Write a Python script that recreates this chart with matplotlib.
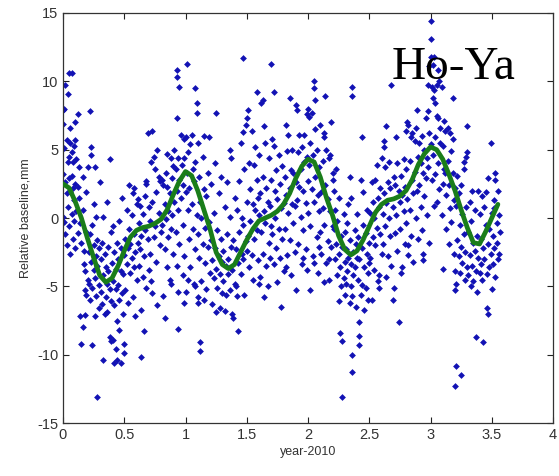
import matplotlib
matplotlib.use("Agg")
import matplotlib.pyplot as plt

# ---- data: (year-2010, relative baseline mm) ----
pts_2010 = [
    (0.00, 7.9), (0.00, 6.9), (0.01, 8.0), (0.00, 3.2), (0.00, 0.1), (0.01, -0.3), (0.02, 9.7), (0.01, 5.1),
    (0.02, 2.6), (0.02, -1.2), (0.03, 5.7), (0.03, 1.8), (0.03, -2.0), (0.04, 9.1), (0.04, 4.1), (0.04, 0.8),
    (0.05, 10.6), (0.05, 4.5), (0.05, 2.9), (0.05, -0.6), (0.06, 6.6), (0.06, 5.5), (0.06, 1.9), (0.06, -2.6),
    (0.07, 10.6), (0.07, 4.8), (0.07, 3.1), (0.07, 0.3), (0.08, 4.1), (0.08, 2.2), (0.08, -1.5), (0.09, 5.3),
    (0.09, 1.3), (0.09, -0.2), (0.10, 7.0), (0.10, 5.7), (0.10, 2.5), (0.10, -2.2),
    (0.12, 7.6), (0.11, 4.3), (0.13, 3.7), (0.12, 2.3), (0.13, 1.5), (0.11, 0.5), (0.14, -0.4), (0.12, -1.1),
    (0.15, -1.8), (0.16, 3.0), (0.16, 0.6), (0.17, -2.4), (0.17, -3.4), (0.18, -5.3), (0.18, -7.1), (0.19, -5.6),
    (0.15, -9.2), (0.16, -8.0), (0.19, 1.9), (0.20, 3.7), (0.19, -1.0), (0.14, -7.2), (0.18, -3.9), (0.20, -4.5),
    (0.21, -2.5), (0.21, -4.8), (0.22, 7.8), (0.22, -1.2), (0.22, -6.0), (0.23, 5.2), (0.23, 4.6), (0.23, -3.2),
    (0.24, -9.3), (0.24, -0.5), (0.24, -5.1), (0.25, 1.0), (0.25, -2.0), (0.25, -3.8), (0.26, 3.7), (0.26, -4.4),
    (0.26, -7.2), (0.27, 0.1), (0.27, -2.8), (0.27, -5.7), (0.28, -13.1), (0.28, -1.6), (0.28, -3.5), (0.29, -4.9),
    (0.29, -6.6), (0.30, 2.6), (0.29, -2.2),
    (0.31, -3.0), (0.31, -5.4), (0.32, -1.8), (0.32, -6.3), (0.33, 0.1), (0.33, -10.4), (0.33, -4.2), (0.34, -2.6),
    (0.34, -7.0), (0.35, -3.6), (0.35, -5.8), (0.36, 1.2), (0.36, -4.8), (0.36, -6.9), (0.37, -2.1), (0.37, -3.9),
    (0.38, 4.3), (0.38, -8.7), (0.38, -5.2), (0.39, -1.0), (0.39, -9.0), (0.39, -6.1), (0.40, -3.3),
    (0.41, -8.9), (0.41, -0.6), (0.41, -4.6), (0.42, -10.6), (0.42, -2.5), (0.42, -6.4), (0.43, -3.7), (0.43, -9.6),
    (0.43, -5.2), (0.44, -10.4), (0.44, -1.8), (0.44, -7.5), (0.45, -3.0), (0.45, -4.9), (0.46, -0.2), (0.46, -6.0),
    (0.46, -8.2), (0.47, -10.6), (0.47, -2.2), (0.47, -3.9), (0.48, -5.5), (0.48, 1.5), (0.49, -4.1), (0.49, -7.0),
    (0.50, -9.2), (0.50, -9.9), (0.50, -2.7),
    (0.51, -1.5), (0.51, -5.3), (0.52, 0.6), (0.52, -3.4), (0.53, -2.2), (0.53, -6.2), (0.54, 2.4), (0.54, -0.8),
    (0.55, -4.0), (0.55, -1.9), (0.56, -2.9), (0.56, 0.2), (0.57, 1.8), (0.57, -5.8), (0.58, 2.2), (0.58, -1.2),
    (0.58, -3.6), (0.59, -7.2), (0.59, -2.5), (0.60, 1.0), (0.60, -4.5),
    (0.61, -1.8), (0.61, 1.4), (0.62, -3.5), (0.62, -0.4), (0.63, -2.3), (0.63, 0.9), (0.64, -10.2), (0.64, -6.7),
    (0.64, -1.3), (0.65, -4.3), (0.65, 0.3), (0.66, -8.3), (0.66, -2.8), (0.67, -0.9), (0.67, 1.6), (0.68, 2.7),
    (0.68, 2.5), (0.68, -5.1), (0.69, 6.2), (0.69, -1.5), (0.70, 0.8), (0.70, -3.8),
    (0.71, -0.2), (0.71, -2.6), (0.72, 4.1), (0.72, -4.6), (0.73, 6.4), (0.73, 1.2), (0.73, -5.5), (0.74, 4.5),
    (0.74, -1.4), (0.75, 3.6), (0.75, -0.6), (0.76, -3.2), (0.76, 1.9), (0.77, 5.0), (0.77, -6.4), (0.78, 0.4),
    (0.78, 3.0), (0.79, 2.7), (0.79, -2.0), (0.80, -1.0),
    (0.81, -0.5), (0.81, 2.8), (0.82, 2.4), (0.82, -5.7), (0.83, -7.3), (0.83, 1.0), (0.83, -2.3), (0.84, 3.3),
    (0.84, -0.1), (0.85, 4.7), (0.85, 2.3), (0.85, -3.6), (0.86, 0.5), (0.86, -1.4), (0.87, 1.8), (0.87, -4.5),
    (0.88, 4.4), (0.88, -0.8), (0.89, 2.9), (0.89, 0.2), (0.90, -2.6), (0.90, 3.8), (0.88, -4.8),
    (0.91, 1.2), (0.91, 5.0), (0.92, -1.0), (0.92, 3.6), (0.93, 2.0), (0.93, -3.5), (0.94, -8.1), (0.94, 4.4),
    (0.94, 0.6), (0.95, 2.8), (0.95, -1.9), (0.96, 6.1), (0.96, 1.5), (0.93, 10.8), (0.93, 10.3), (0.97, 3.9),
    (0.93, 7.3), (0.98, -0.5), (0.98, 2.4), (0.99, 5.8), (0.99, 4.4), (0.99, -2.8), (1.00, 5.9), (1.00, 1.9),
    (1.00, -5.4), (0.94, -5.4), (0.98, -4.2), (0.99, -6.2), (0.95, 9.6),
]

pts_2011 = [
    (1.01, 11.3), (1.01, 3.3), (1.02, 0.6), (1.02, 4.8), (1.03, 2.2), (1.03, -1.5), (1.04, 5.4), (1.04, -3.6),
    (1.05, 6.1), (1.05, 1.0), (1.06, 3.6), (1.06, -0.8), (1.07, -4.8), (1.07, 2.7), (1.08, 9.5), (1.08, 4.1),
    (1.08, -2.3), (1.09, 8.4), (1.09, 7.7), (1.09, 0.2), (1.10, 5.5), (1.10, -1.2), (1.02, -4.5), (1.08, -5.0),
    (1.10, -6.2), (1.10, -5.8),
    (1.11, 3.0), (1.11, -2.9), (1.12, -9.1), (1.12, -9.7), (1.12, 1.2), (1.13, -4.6), (1.13, 0.0), (1.14, 4.5),
    (1.14, -1.9), (1.15, 2.1), (1.15, -6.0), (1.16, -0.7), (1.16, -3.3), (1.17, 1.6), (1.17, -5.2), (1.18, -2.1),
    (1.18, 3.3), (1.19, -0.3), (1.19, 5.9), (1.20, -4.0), (1.15, 6.0),
    (1.21, -1.6), (1.21, 2.5), (1.22, -3.1), (1.22, -6.3), (1.23, 0.4), (1.23, -4.4), (1.24, -2.2), (1.24, 4.0),
    (1.25, 7.7), (1.25, -6.9), (1.25, -3.7), (1.26, -0.9), (1.26, -5.1), (1.27, 1.8), (1.27, -2.8), (1.28, -4.1),
    (1.28, -6.6), (1.29, -1.5), (1.29, 3.0), (1.30, -5.5), (1.30, -3.2),
    (1.31, -2.4), (1.31, -4.6), (1.32, 0.8), (1.32, -6.8), (1.33, -3.5), (1.33, -5.6), (1.34, -1.2), (1.34, 2.6),
    (1.35, -4.1), (1.35, -3.0), (1.36, -5.3), (1.36, 0.1), (1.37, -2.1), (1.37, 4.4), (1.38, -7.0), (1.38, -3.8),
    (1.39, -7.3), (1.39, -1.6), (1.40, -4.8), (1.40, 1.5), (1.36, 5.0),
    (1.41, -5.0), (1.41, -2.3), (1.42, -5.7), (1.42, 0.6), (1.43, -8.3), (1.43, -3.3), (1.44, -1.0), (1.44, 2.7),
    (1.45, 5.5), (1.45, -4.1), (1.46, -2.6), (1.46, 0.0), (1.47, 11.7), (1.47, -0.5), (1.47, -3.0), (1.48, 3.6),
    (1.48, -5.6), (1.49, 6.8), (1.49, -1.7), (1.50, 1.2), (1.50, -2.4), (1.47, 6.3),
    (1.51, 7.9), (1.51, -1.3), (1.52, 4.0), (1.52, -3.6), (1.53, -0.2), (1.53, 2.1), (1.54, 6.4), (1.54, -2.7),
    (1.55, 1.0), (1.55, -4.5), (1.56, 3.9), (1.56, -1.5), (1.57, 0.6), (1.57, 5.2), (1.58, 9.2), (1.58, -0.9),
    (1.58, 2.8), (1.59, -3.1), (1.59, 1.5), (1.60, 4.6), (1.60, -4.8), (1.60, 0.2), (1.50, 7.3),
    (1.61, -4.3), (1.61, 1.8), (1.62, 8.4), (1.62, -1.0), (1.63, 3.0), (1.63, -2.6), (1.64, 6.7), (1.64, 0.5),
    (1.64, -5.8), (1.65, 5.5), (1.65, -0.4), (1.66, 2.2), (1.66, -3.5), (1.67, -5.0), (1.67, 1.2), (1.68, 4.4),
    (1.68, -1.8), (1.69, 0.9), (1.69, -2.9), (1.70, 11.3), (1.70, 2.8), (1.70, -0.6), (1.63, 8.6),
    (1.71, 5.8), (1.71, -1.2), (1.72, 9.2), (1.72, 5.3), (1.72, -3.4), (1.73, 2.0), (1.73, 0.0), (1.74, -2.2),
    (1.74, 3.5), (1.75, -4.7), (1.75, 1.4), (1.76, 4.6), (1.76, -0.8), (1.77, 2.5), (1.77, -2.9), (1.78, -6.5),
    (1.78, 0.7), (1.79, 3.8), (1.79, -1.5), (1.80, 1.1), (1.80, -3.9),
    (1.81, 3.0), (1.81, -0.8), (1.82, 6.8), (1.82, 1.7), (1.83, -2.7), (1.83, 4.9), (1.84, 0.4), (1.84, 6.1),
    (1.85, 8.8), (1.85, -1.6), (1.85, 2.2), (1.86, 3.5), (1.86, -4.2), (1.87, 1.0), (1.87, 5.0), (1.88, -0.4),
    (1.88, 3.3), (1.89, -2.5), (1.89, 0.9), (1.90, 8.3), (1.90, 2.6), (1.90, -5.3), (1.82, -3.6),
    (1.91, 7.9), (1.91, 1.3), (1.92, 4.8), (1.92, -1.9), (1.93, 2.3), (1.93, 6.1), (1.94, 0.1), (1.94, 3.6),
    (1.95, -3.4), (1.95, 5.2), (1.96, 2.0), (1.96, -0.9), (1.97, 6.1), (1.97, 4.1), (1.98, 1.1), (1.98, -2.3),
    (1.99, 4.5), (1.99, 7.6), (2.00, 2.7), (2.00, 0.4), (2.00, 8.0), (1.96, -2.9), (1.99, -3.8),
]

pts_2012 = [
    (2.01, 7.4), (2.01, 3.9), (2.02, -0.6), (2.02, 5.5), (2.03, 2.1), (2.03, 7.7), (2.04, -2.8), (2.04, 4.6),
    (2.05, 10.0), (2.05, 9.5), (2.05, 1.2), (2.06, 8.6), (2.06, 6.5), (2.06, 3.0), (2.07, -1.4), (2.07, 5.0),
    (2.08, 1.7), (2.08, -4.0), (2.09, 3.7), (2.09, 0.5), (2.10, 6.8), (2.10, -1.0), (2.02, -5.3), (2.05, -3.3),
    (2.09, -2.1),
    (2.11, 1.9), (2.11, -2.6), (2.12, 0.7), (2.12, 4.2), (2.13, 6.2), (2.13, 5.9), (2.13, -0.5), (2.14, 8.9),
    (2.14, 2.4), (2.15, -3.3), (2.15, 5.0), (2.16, 1.4), (2.16, -1.7), (2.17, 4.4), (2.17, -4.5), (2.18, 0.5),
    (2.18, 4.6), (2.19, 7.0), (2.19, -2.1), (2.20, 2.8), (2.20, -0.6), (2.20, 3.3), (2.13, -4.7), (2.17, -3.0),
    (2.21, -0.8), (2.21, 2.0), (2.22, -3.0), (2.22, 0.6), (2.23, -1.9), (2.23, 3.6), (2.24, -4.2), (2.24, -0.2),
    (2.25, -6.1), (2.25, -2.6), (2.25, 1.5), (2.26, -8.4), (2.26, -3.6), (2.27, -1.3), (2.27, -5.0), (2.28, -13.1),
    (2.28, -9.0), (2.28, -2.1), (2.29, 0.3), (2.29, -4.4), (2.30, -3.2), (2.30, -1.0), (2.30, -5.6),
    (2.31, -2.3), (2.31, -4.8), (2.32, -0.4), (2.32, -3.9), (2.33, -2.9), (2.33, 1.0), (2.34, -6.2), (2.34, 3.0),
    (2.34, -1.6), (2.35, -3.4), (2.35, -5.0), (2.35, 1.5), (2.36, -10.0), (2.36, -11.3), (2.36, 9.6), (2.36, 8.9),
    (2.36, -5.7), (2.37, -2.5), (2.37, -4.2), (2.38, -0.9), (2.38, -3.6), (2.39, -6.5), (2.39, -1.9), (2.40, -2.9),
    (2.40, 0.3),
    (2.41, -4.5), (2.41, -1.4), (2.42, -8.6), (2.42, -9.3), (2.42, -7.6), (2.42, -3.0), (2.43, -5.6), (2.43, 2.8),
    (2.44, 5.9), (2.44, -2.2), (2.44, -4.9), (2.45, 1.9), (2.45, -0.5), (2.46, -6.7), (2.46, -3.6), (2.47, -1.1),
    (2.47, -5.1), (2.48, -2.6), (2.48, 0.6), (2.49, -4.0), (2.49, -6.0), (2.50, -1.8), (2.50, -3.3),
    (2.51, 0.4), (2.51, -2.9), (2.52, 2.6), (2.52, -6.0), (2.53, -1.4), (2.53, 1.2), (2.54, -3.8), (2.54, 0.0),
    (2.55, 2.8), (2.55, -2.0), (2.56, -0.7), (2.56, 3.9), (2.57, 1.5), (2.57, -4.6), (2.58, -5.1), (2.58, -4.2),
    (2.58, 0.8), (2.59, -1.2), (2.59, 2.2), (2.60, -2.6), (2.60, 4.4),
    (2.61, 0.3), (2.61, -1.9), (2.62, 5.6), (2.62, 5.2), (2.62, 1.8), (2.63, -0.6), (2.63, 3.7), (2.64, 6.7),
    (2.64, -4.3), (2.64, 1.1), (2.65, 2.6), (2.65, -2.8), (2.66, 0.0), (2.66, 4.1), (2.67, -1.3), (2.67, 2.2),
    (2.68, 9.7), (2.68, -3.5), (2.69, -6.0), (2.69, 0.8), (2.70, -5.1), (2.70, 3.0),
    (2.71, -1.1), (2.71, 2.4), (2.72, 5.9), (2.72, 0.2), (2.73, -2.4), (2.73, 4.0), (2.74, -7.6), (2.74, 2.0),
    (2.75, 1.2), (2.75, -0.8), (2.76, 3.1), (2.76, -4.0), (2.77, -3.6), (2.77, 1.7), (2.78, 0.5), (2.78, 4.3),
    (2.79, -1.9), (2.79, 2.3), (2.80, 6.4), (2.80, 3.6), (2.80, -0.4),
    (2.81, 7.0), (2.81, 1.4), (2.82, 6.8), (2.82, -2.7), (2.82, -2.0), (2.83, 4.2), (2.83, 0.6), (2.84, 5.9),
    (2.84, -1.3), (2.85, 2.8), (2.85, 6.2), (2.86, 1.8), (2.86, -3.2), (2.87, 5.6), (2.87, 3.4), (2.88, 0.0),
    (2.88, 6.6), (2.89, 7.9), (2.89, 2.0), (2.90, -1.5), (2.90, 4.5),
    (2.91, 2.4), (2.91, 5.5), (2.92, 0.8), (2.92, 4.0), (2.93, 6.0), (2.93, -0.9), (2.94, -2.6), (2.94, -3.1),
    (2.94, 3.3), (2.95, 5.0), (2.95, 1.6), (2.96, 7.3), (2.96, 2.9), (2.97, 4.4), (2.97, 0.2), (2.98, 9.7),
    (2.98, 7.8), (2.98, 3.7), (2.99, 11.1), (2.99, 6.2), (2.99, -1.8), (3.00, 14.4), (3.00, 13.1), (3.00, 11.8),
    (3.00, 5.4),
]

pts_2013 = [
    (3.01, 9.6), (3.01, 2.8), (3.02, 8.8), (3.02, 11.2), (3.02, 4.6), (3.03, 11.8), (3.03, 9.4), (3.03, 0.9),
    (3.04, 8.4), (3.04, 5.9), (3.04, 3.2), (3.05, 7.5), (3.05, 1.2), (3.05, 9.7), (3.06, 10.8), (3.06, 7.3),
    (3.06, 4.0), (3.07, 10.0), (3.07, 2.1), (3.08, 6.6), (3.08, 5.5), (3.09, 9.6), (3.09, 0.2), (3.10, 5.3),
    (3.10, -3.7), (3.10, 2.5),
    (3.11, 7.1), (3.11, 3.6), (3.12, 6.4), (3.12, 3.3), (3.13, 1.7), (3.13, -0.8), (3.14, 6.6), (3.14, 4.2),
    (3.15, 2.4), (3.15, -1.9), (3.16, 6.2), (3.16, 0.7), (3.17, 4.9), (3.17, -0.3), (3.18, 8.8), (3.18, 5.8),
    (3.18, 3.3), (3.19, 1.3), (3.19, -2.6), (3.20, -3.9), (3.20, -5.3), (3.20, -12.3), (3.20, 2.2),
    (3.21, -10.8), (3.21, -4.8), (3.21, 0.9), (3.22, -1.6), (3.22, 3.1), (3.23, -2.8), (3.23, 1.8), (3.24, -0.5),
    (3.24, -4.0), (3.25, -11.5), (3.25, 2.4), (3.25, -2.1), (3.26, -3.3), (3.26, 0.3), (3.27, 4.1), (3.27, 3.6),
    (3.27, -1.2), (3.28, -4.5), (3.28, -2.5), (3.29, 4.5), (3.29, 0.8), (3.30, 4.8), (3.30, -3.6), (3.30, 6.7),
    (3.31, -1.0), (3.31, -4.2), (3.32, 1.2), (3.32, -2.7), (3.33, -5.0), (3.33, -0.2), (3.34, 2.0), (3.34, -3.5),
    (3.35, -1.8), (3.35, -4.6), (3.36, 0.6), (3.36, -2.4), (3.37, -8.7), (3.37, -3.9), (3.38, -1.3), (3.38, -5.4),
    (3.39, 2.0), (3.39, -2.9), (3.40, 0.3), (3.40, -4.0),
    (3.41, -1.5), (3.41, -3.4), (3.42, 1.6), (3.42, -4.5), (3.43, -9.1), (3.43, -2.2), (3.44, 0.8), (3.44, -3.0),
    (3.45, -0.5), (3.45, 1.9), (3.46, -6.6), (3.46, -4.1), (3.47, -7.0), (3.47, -1.9), (3.47, 2.9), (3.48, -0.8),
    (3.48, -3.6), (3.49, 5.5), (3.49, -2.6), (3.50, -5.2), (3.50, 0.4),
    (3.51, -1.3), (3.51, -3.4), (3.52, 1.3), (3.52, 0.7), (3.52, -2.2), (3.53, 3.3), (3.53, 2.8), (3.53, -4.3),
    (3.54, -0.4), (3.54, -1.8), (3.55, 2.0), (3.55, -3.0), (3.56, 0.2), (3.56, -2.6), (3.57, -1.0),
]

curve_x = [0.00, 0.05, 0.10, 0.15, 0.20, 0.25, 0.30, 0.35, 0.40, 0.45, 0.50, 0.55, 0.60, 0.65, 0.70, 0.75,
           0.80, 0.85, 0.90, 0.95, 1.00, 1.05, 1.10, 1.15, 1.20, 1.25, 1.30, 1.35, 1.40, 1.45, 1.50, 1.55,
           1.60, 1.65, 1.70, 1.75, 1.80, 1.85, 1.90, 1.95, 2.00, 2.05, 2.10, 2.15, 2.20, 2.25, 2.30, 2.35,
           2.40, 2.45, 2.50, 2.55, 2.60, 2.65, 2.70, 2.75, 2.80, 2.85, 2.90, 2.95, 3.00, 3.05, 3.10, 3.15,
           3.20, 3.25, 3.30, 3.35, 3.40, 3.45, 3.50, 3.55]
curve_y = [2.5, 2.2, 1.2, 0.0, -1.5, -2.9, -4.2, -4.7, -4.4, -3.5, -2.4, -1.4, -0.9, -0.7, -0.6, -0.4,
           -0.1, 0.6, 1.7, 2.7, 3.4, 3.1, 2.0, 0.6, -0.8, -2.5, -3.4, -3.7, -3.4, -2.5, -1.6, -0.8,
           -0.2, 0.0, 0.2, 0.5, 1.0, 1.8, 2.9, 3.8, 4.3, 4.1, 3.0, 1.5, 0.2, -1.3, -2.3, -2.7,
           -2.4, -1.6, -0.6, 0.4, 1.0, 1.3, 1.4, 1.6, 2.0, 2.8, 3.9, 4.7, 5.2, 5.0, 4.3, 3.2,
           2.0, 0.6, -0.7, -1.8, -1.9, -1.0, 0.0, 1.0]

x_ticks = [0, 0.5, 1, 1.5, 2, 2.5, 3, 3.5, 4]
x_tick_labels = ["0", "0.5", "1", "1.5", "2", "2.5", "3", "3.5", "4"]
y_ticks = [-15, -10, -5, 0, 5, 10, 15]
y_tick_labels = ["-15", "-10", "-5", "0", "5", "10", "15"]

plt.rcParams['font.family'] = ['Liberation Sans', 'DejaVu Sans']

fig = plt.figure(figsize=(5.59, 4.76), dpi=100)
ax = fig.add_axes([0.1127, 0.1113, 0.8766, 0.8614])

for pts in (pts_2010, pts_2011, pts_2012, pts_2013):
    xs = [p[0] for p in pts]
    ys = [p[1] for p in pts]
    ax.scatter(xs, ys, marker='D', s=12, color='#1212b4', linewidths=0, zorder=2)

ax.plot(curve_x, curve_y, color='#1a7d1a', linewidth=3.4, zorder=3, solid_capstyle='round')

ax.text(2.68, 10.2, "Ho-Ya", fontsize=34, family=['Liberation Serif', 'DejaVu Serif'],
        color='black', zorder=4)

ax.set_xlim(0, 4)
ax.set_ylim(-15, 15)
ax.set_xticks(x_ticks)
ax.set_xticklabels(x_tick_labels)
ax.set_yticks(y_ticks)
ax.set_yticklabels(y_tick_labels)
ax.tick_params(direction='in', top=True, right=True, length=4, width=0.8, labelsize=10.5,
               colors='#222222', labelcolor='#333333')
for s in ax.spines.values():
    s.set_color('#333333')
    s.set_linewidth(0.9)
ax.set_xlabel("year-2010", fontsize=9, color='#333333', labelpad=3)
ax.set_ylabel("Relative baseline,mm", fontsize=9, color='#333333', labelpad=4)

fig.savefig("out.png", dpi=100)
